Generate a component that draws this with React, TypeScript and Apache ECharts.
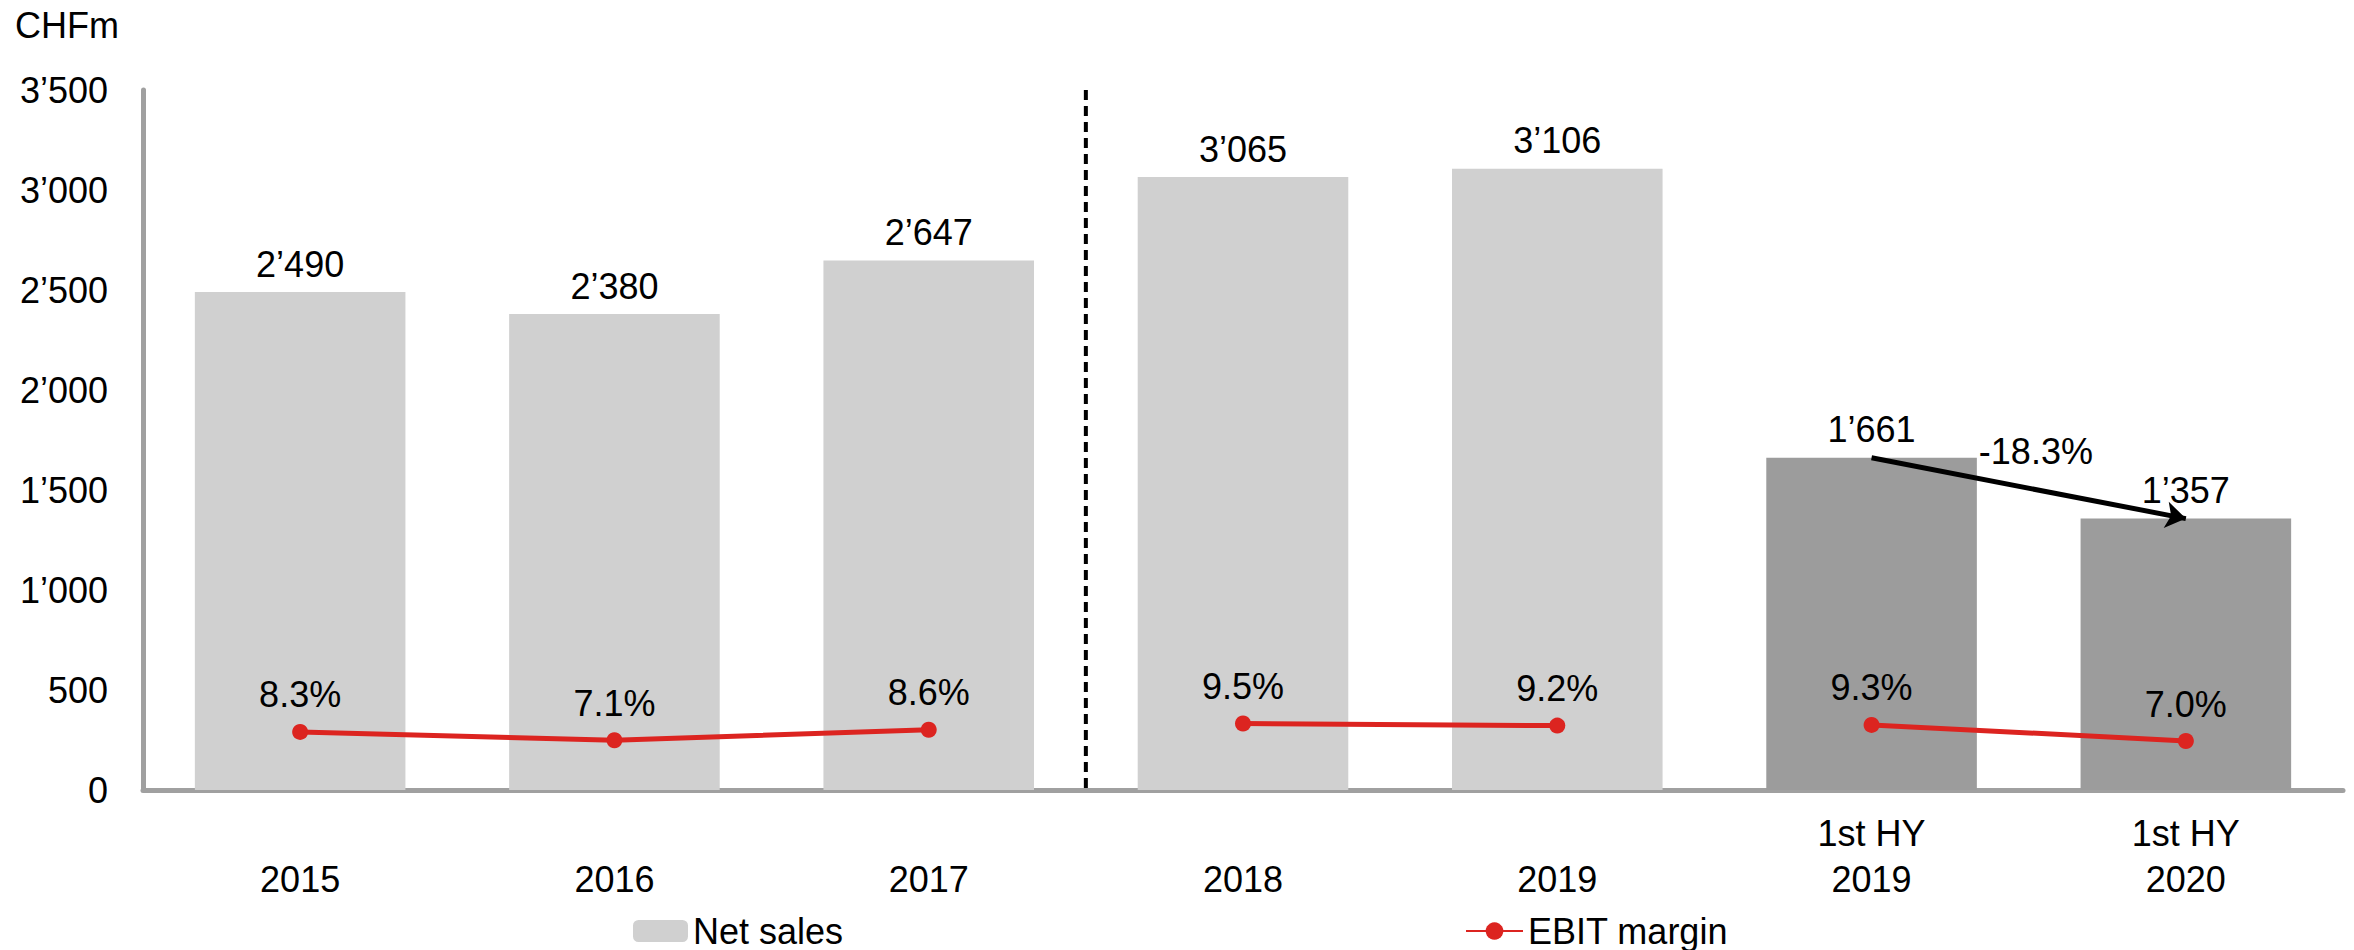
import React, { useEffect, useRef } from "react";
import * as echarts from "echarts";

const categories = ["2015", "2016", "2017", "2018", "2019", "1st HY\n2019", "1st HY\n2020"];
const netSales = [2490, 2380, 2647, 3065, 3106, 1661, 1357];
const ebitMargin = [8.3, 7.1, 8.6, 9.5, 9.2, 9.3, 7.0];
const marginSegments = [
  [0, 1, 2],
  [3, 4],
  [5, 6],
];
const yMin = 0;
const yMax = 3500;
const yInterval = 500;
const unitLabel = "CHFm";

const FONT = "'Liberation Sans', Arial, sans-serif";
const LIGHT = "#d0d0d0";
const DARK = "#9c9c9c";
const RED = "#dc2420";
const AXIS = "#a0a0a0";

const fmt = (v: number) => {
  const s = Math.round(v).toString();
  return s.length > 3 ? s.slice(0, -3) + "\u2019" + s.slice(-3) : s;
};

export default function App() {
  const ref = useRef<HTMLDivElement>(null);
  useEffect(() => {
    if (!ref.current) return;
    const chart = echarts.init(ref.current, undefined, { renderer: "svg" });
    const textBase = { fontFamily: FONT, fontSize: 36, color: "#000", lineHeight: 36 };
    const legendText = { ...textBase, lineHeight: 30 };
    const lineSeries = marginSegments.map((seg) => ({
      name: "EBIT margin",
      type: "line",
      yAxisIndex: 1,
      data: ebitMargin.map((v, i) => (seg.includes(i) ? v : "-")),
      symbol: "circle",
      symbolSize: 16,
      lineStyle: { color: RED, width: 5 },
      itemStyle: { color: RED },
      label: {
        show: true,
        position: "top",
        distance: 11,
        ...textBase,
        formatter: (p: any) => Number(p.value).toFixed(1) + "%",
      },
      z: 5,
    }));
    chart.setOption({
      animation: false,
      title: {
        text: unitLabel,
        left: 15,
        top: 7,
        padding: 0,
        textStyle: { ...textBase, fontWeight: "normal" },
      },
      legend: [
        {
          data: ["Net sales"],
          left: 633,
          top: 913,
          padding: 0,
          itemWidth: 55,
          itemHeight: 22,
          textStyle: legendText,
        },
        {
          data: ["EBIT margin"],
          left: 1465,
          top: 913,
          padding: 0,
          itemWidth: 57,
          itemHeight: 22,
          textStyle: legendText,
        },
      ],
      grid: { left: 143, right: 11, top: 90, bottom: 160, containLabel: false },
      xAxis: {
        type: "category",
        data: categories,
        axisTick: { show: false },
        axisLine: { lineStyle: { color: AXIS, width: 5 } },
        axisLabel: {
          ...textBase,
          lineHeight: 46,
          verticalAlign: "bottom",
          margin: 112,
          interval: 0,
        },
      },
      yAxis: [
        {
          type: "value",
          min: yMin,
          max: yMax,
          interval: yInterval,
          splitLine: { show: false },
          axisTick: { show: false },
          axisLine: { show: true, lineStyle: { color: AXIS, width: 5 } },
          axisLabel: { ...textBase, margin: 35, formatter: (v: number) => fmt(v) },
        },
        { type: "value", min: 0, max: 100, show: false },
      ],
      series: [
        {
          name: "Net sales",
          type: "bar",
          barWidth: "67%",
          itemStyle: { color: LIGHT },
          data: netSales.map((v, i) => ({
            value: v,
            itemStyle: { color: categories[i].includes("HY") ? DARK : LIGHT },
          })),
          label: {
            show: true,
            position: "top",
            distance: 10,
            ...textBase,
            formatter: (p: any) => fmt(p.value),
          },
          markLine: {
            silent: true,
            symbol: ["none", "arrow"],
            symbolSize: 20,
            lineStyle: { color: "#000", width: 5, type: "solid" },
            itemStyle: { color: "#000" },
            label: { show: false },
            z: 10,
            data: [[{ coord: [5, netSales[5]] }, { coord: [6, netSales[6]] }]],
          },
        },
        ...lineSeries,
      ],
    });

    const px = (i: number) => chart.convertToPixel({ xAxisIndex: 0 }, i) as number;
    const py = (v: number) => chart.convertToPixel({ yAxisIndex: 0 }, v) as number;
    const sepX = (px(2) + px(3)) / 2;
    const band = px(1) - px(0);
    const change = ((netSales[6] - netSales[5]) / netSales[5]) * 100;
    chart.setOption({
      graphic: [
        {
          type: "line",
          shape: { x1: sepX, y1: py(yMax), x2: sepX, y2: py(yMin) },
          style: { stroke: "#000", lineWidth: 4, lineDash: [10, 6] },
          z: 10,
        },
        {
          type: "text",
          x: px(5) + band * 0.335 + 2,
          y: py(netSales[5]) - 6,
          style: {
            text: change.toFixed(1) + "%",
            font: `36px ${FONT}`,
            fill: "#000",
            verticalAlign: "middle",
            align: "left",
          },
          z: 10,
        },
      ],
    });
    return () => chart.dispose();
  }, []);
  return (
    <div
      ref={ref}
      style={{ position: "absolute", left: 0, top: 0, width: "2354px", height: "950px" }}
    />
  );
}
